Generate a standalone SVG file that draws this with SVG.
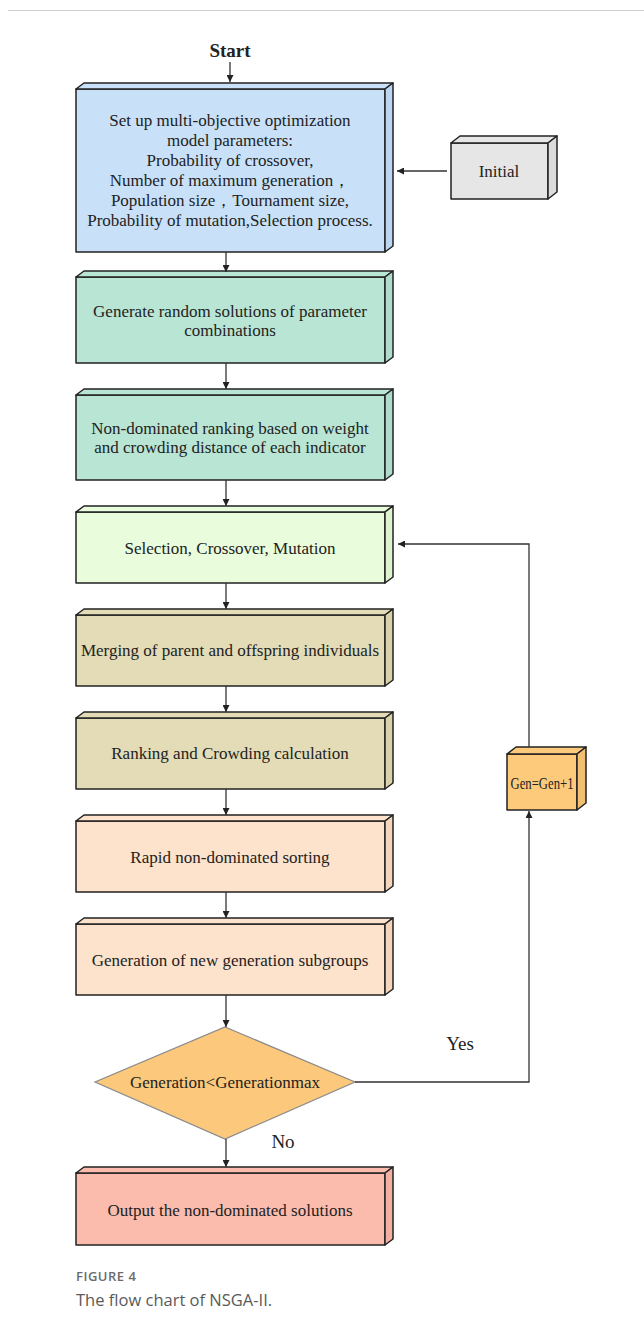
<svg xmlns="http://www.w3.org/2000/svg" width="644" height="1332" viewBox="0 0 644 1332">
<defs>
<style>
.box{stroke:#222;stroke-width:1.5;stroke-linejoin:round}
.t{font-family:"Liberation Serif","Times New Roman",serif;font-size:17px;fill:#222;text-anchor:middle}
.c{stroke:#333;stroke-width:1.3;fill:none}
.cap1{font-family:"Open Sans","Noto Sans",sans-serif;font-size:13px;font-weight:600;fill:#6b6b6b;letter-spacing:0.5px}
.cap2{font-family:"Open Sans","Noto Sans",sans-serif;font-size:16.5px;fill:#5a5a5a}
</style>
<marker id="ah" viewBox="0 0 10 10" refX="10" refY="5" markerWidth="7" markerHeight="7" markerUnits="userSpaceOnUse" orient="auto">
<path d="M0,0 L10,5 L0,10 z" fill="#222"/>
</marker>
</defs>
<rect width="644" height="1332" fill="#fff"/>
<line x1="8" y1="10.5" x2="644" y2="10.5" stroke="#d0d0d0" stroke-width="1"/>

<g id="start"><text x="230" y="57" class="t" style="font-weight:bold;font-size:19px">Start</text></g>

<g id="box1">
<rect x="76" y="89" width="309" height="163" fill="#c9e1f8" class="box"/>
<polygon points="76,89 84,83 393,83 385,89" fill="#c9e1f8" class="box"/>
<polygon points="385,89 393,83 393,246 385,252" fill="#bcd6f1" class="box"/>
<text class="t" x="230" y="126">Set up  multi-objective optimization</text>
<text class="t" x="230" y="146">model parameters:</text>
<text class="t" x="230" y="166">Probability of crossover,</text>
<text class="t" x="230" y="186">Number of maximum generation，</text>
<text class="t" x="230" y="206">Population size，Tournament size,</text>
<text class="t" x="230" y="226">Probability of mutation,Selection process.</text>
</g>

<g id="initial">
<rect x="451" y="143" width="97" height="56" fill="#e6e6e6" class="box"/>
<polygon points="451,143 460,136 557,136 548,143" fill="#e6e6e6" class="box"/>
<polygon points="548,143 557,136 557,192 548,199" fill="#dcdcdc" class="box"/>
<text class="t" x="499" y="177">Initial</text>
</g>

<g id="box2">
<rect x="76" y="277" width="309" height="86" fill="#b9e5d5" class="box"/>
<polygon points="76,277 84,271 393,271 385,277" fill="#b9e5d5" class="box"/>
<polygon points="385,277 393,271 393,357 385,363" fill="#addccb" class="box"/>
<text class="t" x="230" y="317">Generate random solutions of parameter</text>
<text class="t" x="230" y="336">combinations</text>
</g>

<g id="box3">
<rect x="76" y="395" width="309" height="85" fill="#b9e5d5" class="box"/>
<polygon points="76,395 84,389 393,389 385,395" fill="#b9e5d5" class="box"/>
<polygon points="385,395 393,389 393,474 385,480" fill="#addccb" class="box"/>
<text class="t" x="230" y="434">Non-dominated ranking based on  weight</text>
<text class="t" x="230" y="453">and crowding distance of each indicator</text>
</g>

<g id="box4">
<rect x="76" y="512" width="309" height="71" fill="#e9fcdc" class="box"/>
<polygon points="76,512 84,506 393,506 385,512" fill="#e9fcdc" class="box"/>
<polygon points="385,512 393,506 393,577 385,583" fill="#def4cf" class="box"/>
<text class="t" x="230" y="554">Selection, Crossover, Mutation</text>
</g>

<g id="box5">
<rect x="76" y="615" width="309" height="71" fill="#e3dcb6" class="box"/>
<polygon points="76,615 84,609 393,609 385,615" fill="#e3dcb6" class="box"/>
<polygon points="385,615 393,609 393,680 385,686" fill="#d9d1a9" class="box"/>
<text class="t" x="230" y="656">Merging of parent and offspring individuals</text>
</g>

<g id="box6">
<rect x="76" y="718" width="309" height="71" fill="#e3dcb6" class="box"/>
<polygon points="76,718 84,712 393,712 385,718" fill="#e3dcb6" class="box"/>
<polygon points="385,718 393,712 393,783 385,789" fill="#d9d1a9" class="box"/>
<text class="t" x="230" y="759">Ranking and Crowding calculation</text>
</g>

<g id="box7">
<rect x="76" y="821" width="309" height="71" fill="#fde2cc" class="box"/>
<polygon points="76,821 84,815 393,815 385,821" fill="#fde2cc" class="box"/>
<polygon points="385,821 393,815 393,886 385,892" fill="#f5d6bd" class="box"/>
<text class="t" x="230" y="863">Rapid non-dominated sorting</text>
</g>

<g id="box8">
<rect x="76" y="924" width="309" height="71" fill="#fde2cc" class="box"/>
<polygon points="76,924 84,918 393,918 385,924" fill="#fde2cc" class="box"/>
<polygon points="385,924 393,918 393,989 385,995" fill="#f5d6bd" class="box"/>
<text class="t" x="230" y="966">Generation of new generation subgroups</text>
</g>

<g id="decision">
<polygon points="225,1027 355,1082 225,1139 95,1082" fill="#fcc97c" stroke="#8a8a8a" stroke-width="1.2"/>
<text class="t" x="225" y="1088">Generation&lt;Generationmax</text>
</g>

<g id="gen">
<rect x="507" y="754" width="70" height="56" fill="#fdca7c" class="box"/>
<polygon points="507,754 516,747 586,747 577,754" fill="#fdca7c" class="box"/>
<polygon points="577,754 586,747 586,803 577,810" fill="#f3bf70" class="box"/>
<text class="t" x="542" y="789" style="font-size:17px" textLength="63" lengthAdjust="spacingAndGlyphs">Gen=Gen+1</text>
</g>

<g id="box9">
<rect x="76" y="1173" width="309" height="72" fill="#fbbcae" class="box"/>
<polygon points="76,1173 84,1167 393,1167 385,1173" fill="#fbbcae" class="box"/>
<polygon points="385,1173 393,1167 393,1239 385,1245" fill="#f2b0a2" class="box"/>
<text class="t" x="230" y="1216">Output the non-dominated solutions</text>
</g>

<g id="connectors">
<line class="c" x1="230" y1="62" x2="230" y2="82" marker-end="url(#ah)"/>
<line class="c" x1="447" y1="171" x2="397" y2="171" marker-end="url(#ah)"/>
<line class="c" x1="226" y1="252" x2="226" y2="272" marker-end="url(#ah)"/>
<line class="c" x1="226" y1="363" x2="226" y2="389" marker-end="url(#ah)"/>
<line class="c" x1="226" y1="480" x2="226" y2="506" marker-end="url(#ah)"/>
<line class="c" x1="226" y1="583" x2="226" y2="609" marker-end="url(#ah)"/>
<line class="c" x1="226" y1="686" x2="226" y2="712" marker-end="url(#ah)"/>
<line class="c" x1="226" y1="789" x2="226" y2="815" marker-end="url(#ah)"/>
<line class="c" x1="226" y1="892" x2="226" y2="918" marker-end="url(#ah)"/>
<line class="c" x1="226" y1="995" x2="226" y2="1027" marker-end="url(#ah)"/>
<line class="c" x1="226" y1="1139" x2="226" y2="1167" marker-end="url(#ah)"/>
<polyline class="c" points="355,1082 529,1082 529,811" marker-end="url(#ah)"/>
<polyline class="c" points="529,747 529,544 398,544" marker-end="url(#ah)"/>
<text class="t" x="460" y="1050" style="font-size:19px">Yes</text>
<text class="t" x="283" y="1148" style="font-size:19px">No</text>
</g>

<g id="caption">
<text class="cap1" x="76" y="1281">FIGURE 4</text>
<text class="cap2" x="76" y="1306">The flow chart of NSGA-II.</text>
</g>
</svg>
